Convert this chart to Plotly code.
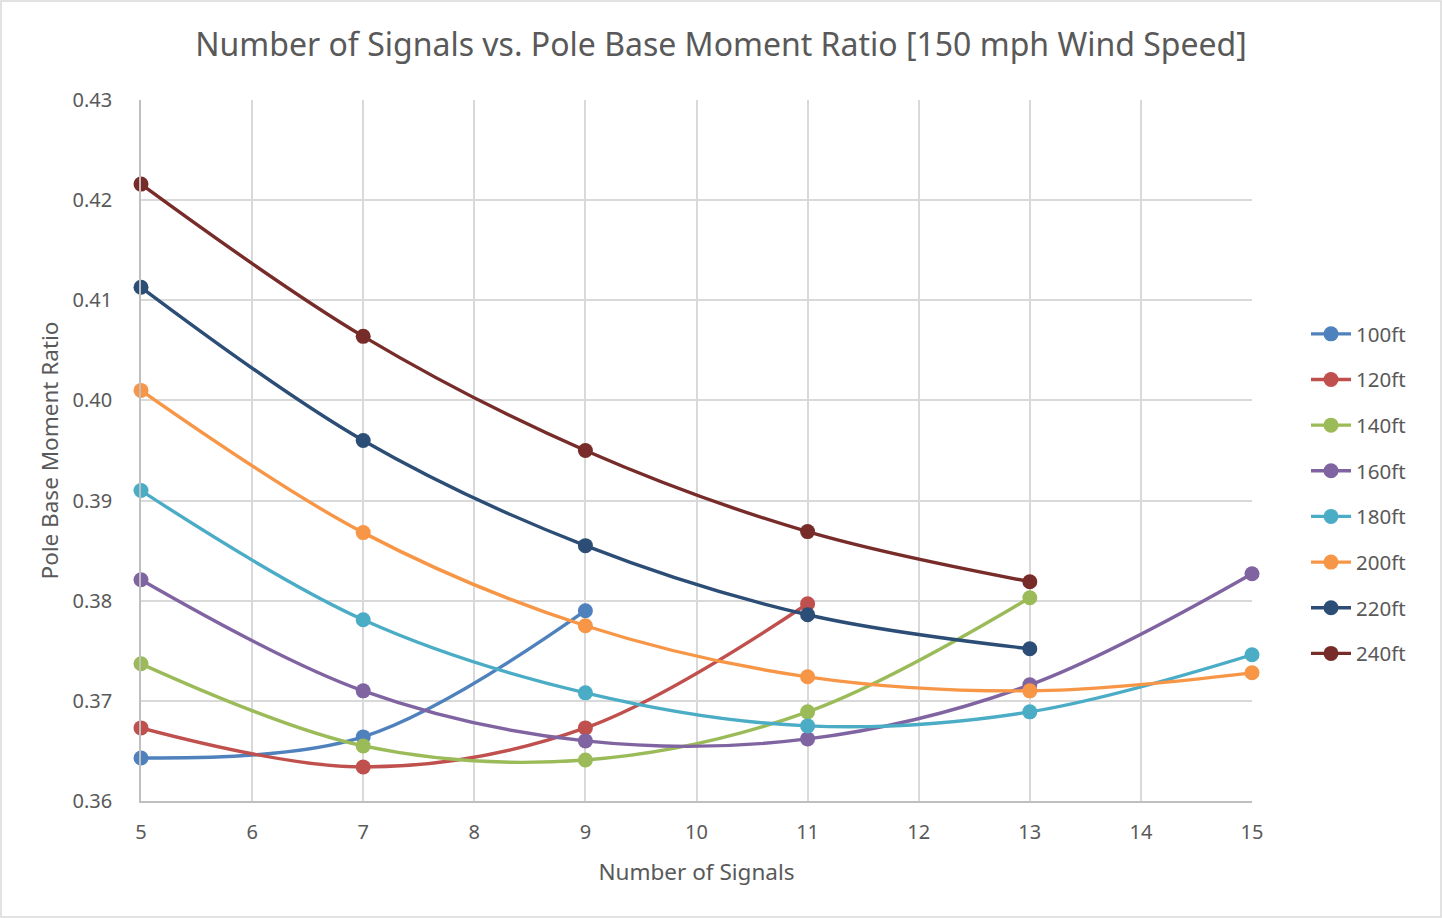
import plotly.graph_objects as go

signals = [5, 7, 9, 11, 13, 15]
series_names = ["100ft", "120ft", "140ft", "160ft", "180ft", "200ft", "220ft", "240ft"]
v100 = [0.3643, 0.3664, 0.3790]
v120 = [0.3673, 0.3634, 0.3673, 0.3797]
v140 = [0.3737, 0.3655, 0.3641, 0.3689, 0.3803]
v160 = [0.3821, 0.3710, 0.3660, 0.3662, 0.3716, 0.3827]
v180 = [0.3910, 0.3781, 0.3708, 0.3675, 0.3689, 0.3746]
v200 = [0.4010, 0.3868, 0.3775, 0.3724, 0.3710, 0.3728]
v220 = [0.4113, 0.3960, 0.3855, 0.3786, 0.3752]
v240 = [0.4216, 0.4064, 0.3950, 0.3869, 0.3819]
values = [v100, v120, v140, v160, v180, v200, v220, v240]
colors = ["#4F81BD", "#C0504D", "#9BBB59", "#8064A2", "#4BACC6", "#F79646", "#2C4D75", "#772C2A"]

x_ticks = list(range(5, 16))
y_ticks = [0.36, 0.37, 0.38, 0.39, 0.40, 0.41, 0.42, 0.43]

fig = go.Figure()
for name, vals, col in zip(series_names, values, colors):
    fig.add_trace(go.Scatter(
        x=signals[:len(vals)], y=vals, name=name, mode="lines+markers",
        line=dict(color=col, width=3.4, shape="spline", smoothing=1.0),
        marker=dict(color=col, size=15),
        legendgroup=name, cliponaxis=False,
    ))

W, H = 1442, 918
ml, mr, mt, mb = 141, 190, 100, 117
pw, ph = W - ml - mr, H - mt - mb

font_family = "Noto Sans, Open Sans, sans-serif"
fig.update_layout(
    width=W, height=H,
    margin=dict(l=ml, r=mr, t=mt, b=mb, pad=0),
    paper_bgcolor="white", plot_bgcolor="white",
    font=dict(family=font_family, color="#595959", size=20),
    title=dict(text="Number of Signals vs. Pole Base Moment Ratio [150 mph Wind Speed]",
               x=0.5, xanchor="center", y=1 - 45 / H, yanchor="middle",
               font=dict(size=32, color="#595959", family=font_family)),
    xaxis=dict(range=[5, 15], tickvals=x_ticks, showgrid=True, gridcolor="#d9d9d9", gridwidth=1.5,
               zeroline=False, showline=True, linecolor="#bfbfbf", linewidth=1.5,
               title=dict(text="Number of Signals", font=dict(size=22.5), standoff=20),
               tickfont=dict(size=20), ticks="", ticklen=0, ticklabelstandoff=12),
    yaxis=dict(range=[0.36, 0.43], tickvals=y_ticks, tickformat=".2f", showgrid=True,
               gridcolor="#d9d9d9", gridwidth=1.5, zeroline=False, showline=True,
               linecolor="#bfbfbf", linewidth=1.5,
               title=dict(text="Pole Base Moment Ratio", font=dict(size=22.5), standoff=8),
               tickfont=dict(size=20), ticks="", ticklen=0, ticklabelstandoff=23),
    legend=dict(x=1 + 54 / pw, xanchor="left", y=(801 - 494) / ph, yanchor="middle",
                font=dict(size=20.5, color="#595959"), tracegroupgap=16, traceorder="grouped",
                itemwidth=40, bgcolor="rgba(0,0,0,0)"),
    showlegend=True,
)

fig.add_shape(type="rect", xref="paper", yref="paper",
              x0=(1 - ml) / pw, x1=(W - 1 - ml) / pw,
              y0=-(H - 1 - mt - ph) / ph, y1=(mt - 1) / ph + 1,
              line=dict(color="#d9d9d9", width=1.5), fillcolor="rgba(0,0,0,0)", layer="below")

fig.write_html("out.html", config={"displayModeBar": False},
               post_script="document.body.style.margin='0';document.body.style.overflow='hidden';")
